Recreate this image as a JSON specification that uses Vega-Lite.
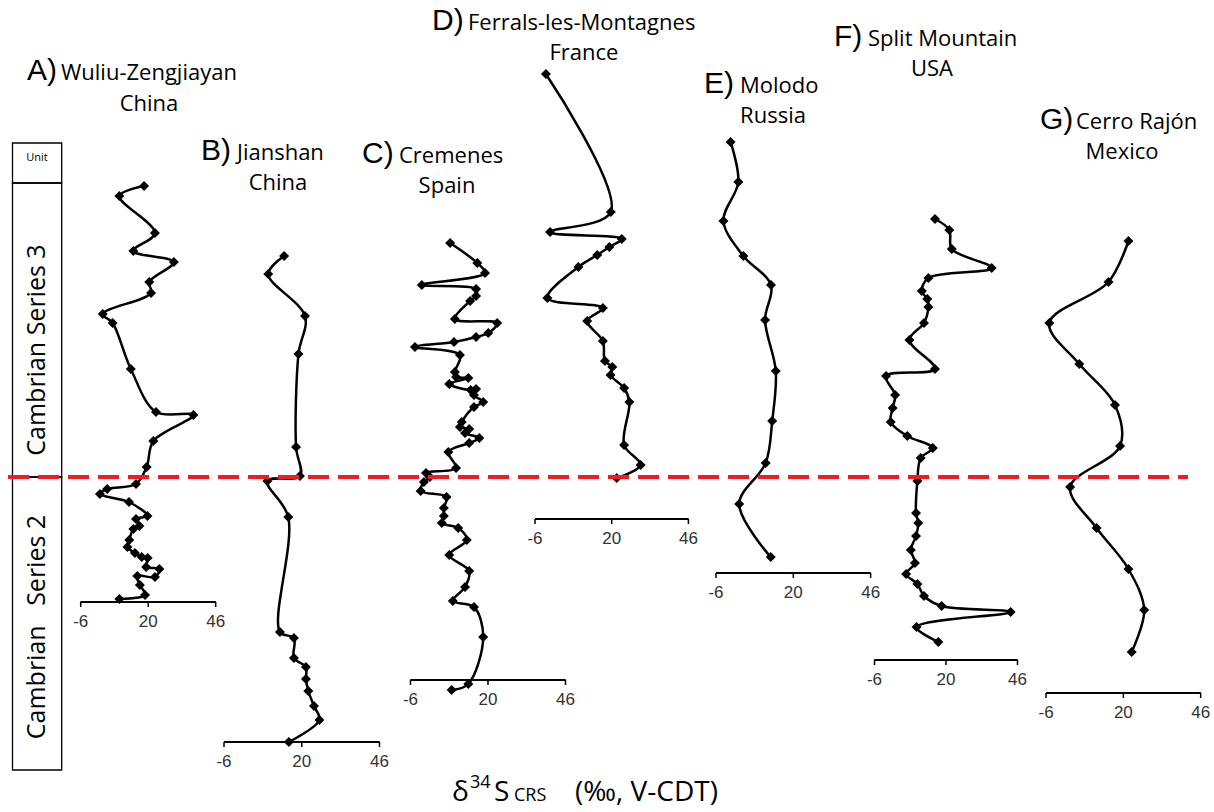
{
  "$schema": "https://vega.github.io/schema/vega-lite/v6.json",
  "width": 1214,
  "height": 812,
  "autosize": {"type": "none"},
  "padding": 0,
  "background": "white",
  "config": {"view": {"stroke": null}},
  "datasets": {
    "A": [
      {"i":1,"d34S":18.4,"h":291},{"i":2,"d34S":8.9,"h":281},{"i":3,"d34S":22.6,"h":244},{"i":4,"d34S":14.3,"h":226},
      {"i":5,"d34S":29.9,"h":215},{"i":6,"d34S":20.4,"h":195},{"i":7,"d34S":21.1,"h":184},{"i":8,"d34S":2.5,"h":163},
      {"i":9,"d34S":6.3,"h":154},{"i":10,"d34S":13.3,"h":108},{"i":11,"d34S":23.0,"h":65},{"i":12,"d34S":37.4,"h":62},
      {"i":13,"d34S":22.0,"h":36},{"i":14,"d34S":19.4,"h":10},{"i":15,"d34S":15.3,"h":-7},{"i":16,"d34S":4.2,"h":-12},
      {"i":17,"d34S":1.4,"h":-17},{"i":18,"d34S":12.6,"h":-25},{"i":19,"d34S":19.7,"h":-39},{"i":20,"d34S":15.3,"h":-42},
      {"i":21,"d34S":16.6,"h":-49},{"i":22,"d34S":14.3,"h":-52},{"i":23,"d34S":12.7,"h":-63},{"i":24,"d34S":12.0,"h":-70},
      {"i":25,"d34S":14.9,"h":-76},{"i":26,"d34S":17.5,"h":-80},{"i":27,"d34S":19.8,"h":-81},{"i":28,"d34S":19.2,"h":-90},
      {"i":29,"d34S":24.3,"h":-92},{"i":30,"d34S":22.6,"h":-100},{"i":31,"d34S":15.8,"h":-99},{"i":32,"d34S":16.8,"h":-108},
      {"i":33,"d34S":18.8,"h":-118},{"i":34,"d34S":8.9,"h":-122}
    ],
    "B": [
      {"i":1,"d34S":14.1,"h":221},{"i":2,"d34S":8.8,"h":203},{"i":3,"d34S":21.1,"h":161},{"i":4,"d34S":18.9,"h":123},
      {"i":5,"d34S":18.1,"h":30},{"i":6,"d34S":19.4,"h":1},{"i":7,"d34S":8.5,"h":-4},{"i":8,"d34S":15.5,"h":-40},
      {"i":9,"d34S":12.7,"h":-155},{"i":10,"d34S":17.4,"h":-161},{"i":11,"d34S":17.4,"h":-181},{"i":12,"d34S":21.4,"h":-190},
      {"i":13,"d34S":21.4,"h":-202},{"i":14,"d34S":22.2,"h":-214},{"i":15,"d34S":24.1,"h":-229},{"i":16,"d34S":25.9,"h":-243},
      {"i":17,"d34S":15.7,"h":-265}
    ],
    "C": [
      {"i":1,"d34S":7.3,"h":234},{"i":2,"d34S":16.4,"h":214},{"i":3,"d34S":19.0,"h":204},{"i":4,"d34S":-2.2,"h":192},
      {"i":5,"d34S":16.0,"h":188},{"i":6,"d34S":16.0,"h":181},{"i":7,"d34S":14.0,"h":176},{"i":8,"d34S":8.9,"h":158},
      {"i":9,"d34S":23.1,"h":154},{"i":10,"d34S":20.1,"h":144},{"i":11,"d34S":16.0,"h":140},{"i":12,"d34S":8.6,"h":135},
      {"i":13,"d34S":-4.5,"h":130},{"i":14,"d34S":10.6,"h":122},{"i":15,"d34S":8.9,"h":105},{"i":16,"d34S":9.3,"h":100},
      {"i":17,"d34S":13.4,"h":99},{"i":18,"d34S":7.0,"h":93},{"i":19,"d34S":14.2,"h":87},{"i":20,"d34S":16.0,"h":88},
      {"i":21,"d34S":15.3,"h":82},{"i":22,"d34S":18.4,"h":75},{"i":23,"d34S":15.3,"h":70},{"i":24,"d34S":11.2,"h":55},
      {"i":25,"d34S":10.6,"h":50},{"i":26,"d34S":13.7,"h":48},{"i":27,"d34S":12.3,"h":44},{"i":28,"d34S":17.1,"h":39},
      {"i":29,"d34S":13.7,"h":34},{"i":30,"d34S":6.7,"h":25},{"i":31,"d34S":9.3,"h":9},{"i":32,"d34S":-0.8,"h":4},
      {"i":33,"d34S":0.5,"h":0},{"i":34,"d34S":-1.5,"h":-5},{"i":35,"d34S":-2.6,"h":-14},{"i":36,"d34S":6.1,"h":-20},
      {"i":37,"d34S":5.2,"h":-31},{"i":38,"d34S":5.2,"h":-39},{"i":39,"d34S":4.5,"h":-46},{"i":40,"d34S":10.0,"h":-51},
      {"i":41,"d34S":12.9,"h":-63},{"i":42,"d34S":7.0,"h":-78},{"i":43,"d34S":13.7,"h":-94},{"i":44,"d34S":12.3,"h":-110},
      {"i":45,"d34S":8.2,"h":-124},{"i":46,"d34S":15.3,"h":-130},{"i":47,"d34S":18.4,"h":-160},{"i":48,"d34S":13.4,"h":-207},
      {"i":49,"d34S":7.8,"h":-213}
    ],
    "D": [
      {"i":1,"d34S":-2.3,"h":403},{"i":2,"d34S":19.7,"h":265},{"i":3,"d34S":-0.9,"h":245},{"i":4,"d34S":23.4,"h":238},
      {"i":5,"d34S":19.2,"h":230},{"i":6,"d34S":15.1,"h":222},{"i":7,"d34S":8.7,"h":210},{"i":8,"d34S":-1.8,"h":179},
      {"i":9,"d34S":17.0,"h":169},{"i":10,"d34S":11.7,"h":156},{"i":11,"d34S":17.0,"h":136},{"i":12,"d34S":17.7,"h":116},
      {"i":13,"d34S":20.2,"h":110},{"i":14,"d34S":19.6,"h":102},{"i":15,"d34S":24.2,"h":89},{"i":16,"d34S":26.0,"h":75},
      {"i":17,"d34S":24.2,"h":32},{"i":18,"d34S":29.8,"h":12},{"i":19,"d34S":21.7,"h":-1}
    ],
    "E": [
      {"i":1,"d34S":-1.1,"h":335},{"i":2,"d34S":1.5,"h":295},{"i":3,"d34S":-3.5,"h":256},{"i":4,"d34S":3.2,"h":221},
      {"i":5,"d34S":12.5,"h":192},{"i":6,"d34S":10.5,"h":157},{"i":7,"d34S":14.1,"h":106},{"i":8,"d34S":12.9,"h":56},
      {"i":9,"d34S":10.7,"h":14},{"i":10,"d34S":1.8,"h":-27},{"i":11,"d34S":12.4,"h":-80}
    ],
    "F": [
      {"i":1,"d34S":16.0,"h":258},{"i":2,"d34S":21.2,"h":247},{"i":3,"d34S":22.1,"h":228},{"i":4,"d34S":36.6,"h":209},
      {"i":5,"d34S":13.6,"h":199},{"i":6,"d34S":11.2,"h":186},{"i":7,"d34S":13.2,"h":178},{"i":8,"d34S":13.6,"h":170},
      {"i":9,"d34S":12.0,"h":154},{"i":10,"d34S":6.7,"h":137},{"i":11,"d34S":16.0,"h":108},{"i":12,"d34S":-1.8,"h":101},
      {"i":13,"d34S":1.5,"h":82},{"i":14,"d34S":0.6,"h":69},{"i":15,"d34S":-0.1,"h":55},{"i":16,"d34S":5.9,"h":41},
      {"i":17,"d34S":15.2,"h":29},{"i":18,"d34S":10.8,"h":19},{"i":19,"d34S":9.6,"h":-4},{"i":20,"d34S":9.1,"h":-36},
      {"i":21,"d34S":9.9,"h":-46},{"i":22,"d34S":9.1,"h":-59},{"i":23,"d34S":7.2,"h":-73},{"i":24,"d34S":8.7,"h":-86},
      {"i":25,"d34S":5.5,"h":-97},{"i":26,"d34S":9.6,"h":-107},{"i":27,"d34S":12.0,"h":-119},{"i":28,"d34S":18.4,"h":-129},
      {"i":29,"d34S":43.5,"h":-135},{"i":30,"d34S":9.3,"h":-150},{"i":31,"d34S":17.2,"h":-165}
    ],
    "G": [
      {"i":1,"d34S":21.7,"h":236},{"i":2,"d34S":15.0,"h":195},{"i":3,"d34S":-4.9,"h":154},{"i":4,"d34S":5.2,"h":113},
      {"i":5,"d34S":17.2,"h":72},{"i":6,"d34S":18.9,"h":31},{"i":7,"d34S":2.1,"h":-10},{"i":8,"d34S":11.0,"h":-51},
      {"i":9,"d34S":21.7,"h":-92},{"i":10,"d34S":27.0,"h":-133},{"i":11,"d34S":22.8,"h":-175}
    ],
    "ticks": [{"v": -6, "lab": "-6"}, {"v": 20, "lab": "20"}, {"v": 46, "lab": "46"}],
    "letters": [
      {"t":"A)","x":-26.69,"h":397},{"t":"B)","x":40.34,"h":317},{"t":"C)","x":102.36,"h":314},{"t":"D)","x":129.32,"h":447},
      {"t":"E)","x":234.10,"h":384},{"t":"F)","x":284.17,"h":431},{"t":"G)","x":363.53,"h":348}
    ],
    "names": [
      {"t":"Wuliu-Zengjiayan","x":-13.59,"h":397},{"t":"Jianshan","x":54.20,"h":317},{"t":"Cremenes","x":116.61,"h":314},
      {"t":"Ferrals-les-Montagnes","x":143.19,"h":447},{"t":"Molodo","x":247.96,"h":384},{"t":"Split Mountain","x":297.27,"h":431},
      {"t":"Cerro Rajón","x":377.39,"h":348}
    ],
    "countries": [
      {"t":"China","x":20.31,"h":366},{"t":"China","x":70.0,"h":287},{"t":"Spain","x":135.10,"h":284},{"t":"France","x":187.87,"h":417},
      {"t":"Russia","x":260.68,"h":354},{"t":"USA","x":321.92,"h":401},{"t":"Mexico","x":395.11,"h":318}
    ]
  },
  "layer": [
    {
      "layer": [
        {"data": {"name": "A"}, "mark": {"type": "line", "interpolate": "catmull-rom", "color": "black", "strokeWidth": 2.5},
         "encoding": {
           "x": {"field": "d34S", "type": "quantitative", "scale": {"domain": [-37.086, 430.55], "nice": false, "zero": false}, "axis": null},
           "y": {"field": "h", "type": "quantitative", "scale": {"domain": [-335, 477], "nice": false, "zero": false}, "axis": null},
           "order": {"field": "i"}}},
        {"data": {"name": "A"}, "mark": {"type": "point", "shape": "diamond", "filled": true, "color": "black", "size": 100, "opacity": 1},
         "encoding": {
           "x": {"field": "d34S", "type": "quantitative", "scale": {"domain": [-37.086, 430.55], "nice": false, "zero": false}, "axis": null},
           "y": {"field": "h", "type": "quantitative", "scale": {"domain": [-335, 477], "nice": false, "zero": false}, "axis": null}}},
        {"data": {"name": "ticks"}, "mark": {"type": "rule", "color": "black", "strokeWidth": 1.5},
         "encoding": {
           "x": {"datum": -6, "type": "quantitative", "scale": {"domain": [-37.086, 430.55], "nice": false, "zero": false}, "axis": null},
           "x2": {"datum": 46},
           "y": {"datum": -125, "type": "quantitative", "scale": {"domain": [-335, 477], "nice": false, "zero": false}, "axis": null}}},
        {"data": {"name": "ticks"}, "mark": {"type": "rule", "color": "black", "strokeWidth": 1.5},
         "encoding": {
           "x": {"field": "v", "type": "quantitative", "scale": {"domain": [-37.086, 430.55], "nice": false, "zero": false}, "axis": null},
           "y": {"datum": -125, "type": "quantitative", "scale": {"domain": [-335, 477], "nice": false, "zero": false}, "axis": null},
           "y2": {"datum": -130}}},
        {"data": {"name": "ticks"}, "mark": {"type": "text", "font": "Liberation Sans", "fontSize": 17, "color": "#333333", "align": "center", "baseline": "alphabetic"},
         "encoding": {
           "x": {"field": "v", "type": "quantitative", "scale": {"domain": [-37.086, 430.55], "nice": false, "zero": false}, "axis": null},
           "y": {"datum": -150, "type": "quantitative", "scale": {"domain": [-335, 477], "nice": false, "zero": false}, "axis": null},
           "text": {"field": "lab"}}}
      ]
    },
    {
      "layer": [
        {"data": {"name": "B"}, "mark": {"type": "line", "interpolate": "catmull-rom", "color": "black", "strokeWidth": 2.5},
         "encoding": {
           "x": {"field": "d34S", "type": "quantitative", "scale": {"domain": [-80.916, 325.10], "nice": false, "zero": false}, "axis": null},
           "y": {"field": "h", "type": "quantitative", "scale": {"domain": [-335, 477], "nice": false, "zero": false}, "axis": null},
           "order": {"field": "i"}}},
        {"data": {"name": "B"}, "mark": {"type": "point", "shape": "diamond", "filled": true, "color": "black", "size": 100, "opacity": 1},
         "encoding": {
           "x": {"field": "d34S", "type": "quantitative", "scale": {"domain": [-80.916, 325.10], "nice": false, "zero": false}, "axis": null},
           "y": {"field": "h", "type": "quantitative", "scale": {"domain": [-335, 477], "nice": false, "zero": false}, "axis": null}}},
        {"data": {"name": "ticks"}, "mark": {"type": "rule", "color": "black", "strokeWidth": 1.5},
         "encoding": {
           "x": {"datum": -6, "type": "quantitative", "scale": {"domain": [-80.916, 325.10], "nice": false, "zero": false}, "axis": null},
           "x2": {"datum": 46},
           "y": {"datum": -265, "type": "quantitative", "scale": {"domain": [-335, 477], "nice": false, "zero": false}, "axis": null}}},
        {"data": {"name": "ticks"}, "mark": {"type": "rule", "color": "black", "strokeWidth": 1.5},
         "encoding": {
           "x": {"field": "v", "type": "quantitative", "scale": {"domain": [-80.916, 325.10], "nice": false, "zero": false}, "axis": null},
           "y": {"datum": -265, "type": "quantitative", "scale": {"domain": [-335, 477], "nice": false, "zero": false}, "axis": null},
           "y2": {"datum": -270}}},
        {"data": {"name": "ticks"}, "mark": {"type": "text", "font": "Liberation Sans", "fontSize": 17, "color": "#333333", "align": "center", "baseline": "alphabetic"},
         "encoding": {
           "x": {"field": "v", "type": "quantitative", "scale": {"domain": [-80.916, 325.10], "nice": false, "zero": false}, "axis": null},
           "y": {"datum": -290, "type": "quantitative", "scale": {"domain": [-335, 477], "nice": false, "zero": false}, "axis": null},
           "text": {"field": "lab"}}}
      ]
    },
    {
      "layer": [
        {"data": {"name": "C"}, "mark": {"type": "line", "interpolate": "catmull-rom", "color": "black", "strokeWidth": 2.5},
         "encoding": {
           "x": {"field": "d34S", "type": "quantitative", "scale": {"domain": [-143.75, 263.63], "nice": false, "zero": false}, "axis": null},
           "y": {"field": "h", "type": "quantitative", "scale": {"domain": [-335, 477], "nice": false, "zero": false}, "axis": null},
           "order": {"field": "i"}}},
        {"data": {"name": "C"}, "mark": {"type": "point", "shape": "diamond", "filled": true, "color": "black", "size": 100, "opacity": 1},
         "encoding": {
           "x": {"field": "d34S", "type": "quantitative", "scale": {"domain": [-143.75, 263.63], "nice": false, "zero": false}, "axis": null},
           "y": {"field": "h", "type": "quantitative", "scale": {"domain": [-335, 477], "nice": false, "zero": false}, "axis": null}}},
        {"data": {"name": "ticks"}, "mark": {"type": "rule", "color": "black", "strokeWidth": 1.5},
         "encoding": {
           "x": {"datum": -6, "type": "quantitative", "scale": {"domain": [-143.75, 263.63], "nice": false, "zero": false}, "axis": null},
           "x2": {"datum": 46},
           "y": {"datum": -203, "type": "quantitative", "scale": {"domain": [-335, 477], "nice": false, "zero": false}, "axis": null}}},
        {"data": {"name": "ticks"}, "mark": {"type": "rule", "color": "black", "strokeWidth": 1.5},
         "encoding": {
           "x": {"field": "v", "type": "quantitative", "scale": {"domain": [-143.75, 263.63], "nice": false, "zero": false}, "axis": null},
           "y": {"datum": -203, "type": "quantitative", "scale": {"domain": [-335, 477], "nice": false, "zero": false}, "axis": null},
           "y2": {"datum": -208}}},
        {"data": {"name": "ticks"}, "mark": {"type": "text", "font": "Liberation Sans", "fontSize": 17, "color": "#333333", "align": "center", "baseline": "alphabetic"},
         "encoding": {
           "x": {"field": "v", "type": "quantitative", "scale": {"domain": [-143.75, 263.63], "nice": false, "zero": false}, "axis": null},
           "y": {"datum": -228, "type": "quantitative", "scale": {"domain": [-335, 477], "nice": false, "zero": false}, "axis": null},
           "text": {"field": "lab"}}}
      ]
    },
    {
      "layer": [
        {"data": {"name": "D"}, "mark": {"type": "line", "interpolate": "catmull-rom", "color": "black", "strokeWidth": 2.5},
         "encoding": {
           "x": {"field": "d34S", "type": "quantitative", "scale": {"domain": [-187.36, 224.17], "nice": false, "zero": false}, "axis": null},
           "y": {"field": "h", "type": "quantitative", "scale": {"domain": [-335, 477], "nice": false, "zero": false}, "axis": null},
           "order": {"field": "i"}}},
        {"data": {"name": "D"}, "mark": {"type": "point", "shape": "diamond", "filled": true, "color": "black", "size": 100, "opacity": 1},
         "encoding": {
           "x": {"field": "d34S", "type": "quantitative", "scale": {"domain": [-187.36, 224.17], "nice": false, "zero": false}, "axis": null},
           "y": {"field": "h", "type": "quantitative", "scale": {"domain": [-335, 477], "nice": false, "zero": false}, "axis": null}}},
        {"data": {"name": "ticks"}, "mark": {"type": "rule", "color": "black", "strokeWidth": 1.5},
         "encoding": {
           "x": {"datum": -6, "type": "quantitative", "scale": {"domain": [-187.36, 224.17], "nice": false, "zero": false}, "axis": null},
           "x2": {"datum": 46},
           "y": {"datum": -42, "type": "quantitative", "scale": {"domain": [-335, 477], "nice": false, "zero": false}, "axis": null}}},
        {"data": {"name": "ticks"}, "mark": {"type": "rule", "color": "black", "strokeWidth": 1.5},
         "encoding": {
           "x": {"field": "v", "type": "quantitative", "scale": {"domain": [-187.36, 224.17], "nice": false, "zero": false}, "axis": null},
           "y": {"datum": -42, "type": "quantitative", "scale": {"domain": [-335, 477], "nice": false, "zero": false}, "axis": null},
           "y2": {"datum": -47}}},
        {"data": {"name": "ticks"}, "mark": {"type": "text", "font": "Liberation Sans", "fontSize": 17, "color": "#333333", "align": "center", "baseline": "alphabetic"},
         "encoding": {
           "x": {"field": "v", "type": "quantitative", "scale": {"domain": [-187.36, 224.17], "nice": false, "zero": false}, "axis": null},
           "y": {"datum": -67, "type": "quantitative", "scale": {"domain": [-335, 477], "nice": false, "zero": false}, "axis": null},
           "text": {"field": "lab"}}}
      ]
    },
    {
      "layer": [
        {"data": {"name": "E"}, "mark": {"type": "line", "interpolate": "catmull-rom", "color": "black", "strokeWidth": 2.5},
         "encoding": {
           "x": {"field": "d34S", "type": "quantitative", "scale": {"domain": [-246.75, 161.45], "nice": false, "zero": false}, "axis": null},
           "y": {"field": "h", "type": "quantitative", "scale": {"domain": [-335, 477], "nice": false, "zero": false}, "axis": null},
           "order": {"field": "i"}}},
        {"data": {"name": "E"}, "mark": {"type": "point", "shape": "diamond", "filled": true, "color": "black", "size": 100, "opacity": 1},
         "encoding": {
           "x": {"field": "d34S", "type": "quantitative", "scale": {"domain": [-246.75, 161.45], "nice": false, "zero": false}, "axis": null},
           "y": {"field": "h", "type": "quantitative", "scale": {"domain": [-335, 477], "nice": false, "zero": false}, "axis": null}}},
        {"data": {"name": "ticks"}, "mark": {"type": "rule", "color": "black", "strokeWidth": 1.5},
         "encoding": {
           "x": {"datum": -6, "type": "quantitative", "scale": {"domain": [-246.75, 161.45], "nice": false, "zero": false}, "axis": null},
           "x2": {"datum": 46},
           "y": {"datum": -96, "type": "quantitative", "scale": {"domain": [-335, 477], "nice": false, "zero": false}, "axis": null}}},
        {"data": {"name": "ticks"}, "mark": {"type": "rule", "color": "black", "strokeWidth": 1.5},
         "encoding": {
           "x": {"field": "v", "type": "quantitative", "scale": {"domain": [-246.75, 161.45], "nice": false, "zero": false}, "axis": null},
           "y": {"datum": -96, "type": "quantitative", "scale": {"domain": [-335, 477], "nice": false, "zero": false}, "axis": null},
           "y2": {"datum": -101}}},
        {"data": {"name": "ticks"}, "mark": {"type": "text", "font": "Liberation Sans", "fontSize": 17, "color": "#333333", "align": "center", "baseline": "alphabetic"},
         "encoding": {
           "x": {"field": "v", "type": "quantitative", "scale": {"domain": [-246.75, 161.45], "nice": false, "zero": false}, "axis": null},
           "y": {"datum": -121, "type": "quantitative", "scale": {"domain": [-335, 477], "nice": false, "zero": false}, "axis": null},
           "text": {"field": "lab"}}}
      ]
    },
    {
      "layer": [
        {"data": {"name": "F"}, "mark": {"type": "line", "interpolate": "catmull-rom", "color": "black", "strokeWidth": 2.5},
         "encoding": {
           "x": {"field": "d34S", "type": "quantitative", "scale": {"domain": [-324.0, 117.45], "nice": false, "zero": false}, "axis": null},
           "y": {"field": "h", "type": "quantitative", "scale": {"domain": [-335, 477], "nice": false, "zero": false}, "axis": null},
           "order": {"field": "i"}}},
        {"data": {"name": "F"}, "mark": {"type": "point", "shape": "diamond", "filled": true, "color": "black", "size": 100, "opacity": 1},
         "encoding": {
           "x": {"field": "d34S", "type": "quantitative", "scale": {"domain": [-324.0, 117.45], "nice": false, "zero": false}, "axis": null},
           "y": {"field": "h", "type": "quantitative", "scale": {"domain": [-335, 477], "nice": false, "zero": false}, "axis": null}}},
        {"data": {"name": "ticks"}, "mark": {"type": "rule", "color": "black", "strokeWidth": 1.5},
         "encoding": {
           "x": {"datum": -6, "type": "quantitative", "scale": {"domain": [-324.0, 117.45], "nice": false, "zero": false}, "axis": null},
           "x2": {"datum": 46},
           "y": {"datum": -183, "type": "quantitative", "scale": {"domain": [-335, 477], "nice": false, "zero": false}, "axis": null}}},
        {"data": {"name": "ticks"}, "mark": {"type": "rule", "color": "black", "strokeWidth": 1.5},
         "encoding": {
           "x": {"field": "v", "type": "quantitative", "scale": {"domain": [-324.0, 117.45], "nice": false, "zero": false}, "axis": null},
           "y": {"datum": -183, "type": "quantitative", "scale": {"domain": [-335, 477], "nice": false, "zero": false}, "axis": null},
           "y2": {"datum": -188}}},
        {"data": {"name": "ticks"}, "mark": {"type": "text", "font": "Liberation Sans", "fontSize": 17, "color": "#333333", "align": "center", "baseline": "alphabetic"},
         "encoding": {
           "x": {"field": "v", "type": "quantitative", "scale": {"domain": [-324.0, 117.45], "nice": false, "zero": false}, "axis": null},
           "y": {"datum": -208, "type": "quantitative", "scale": {"domain": [-335, 477], "nice": false, "zero": false}, "axis": null},
           "text": {"field": "lab"}}}
      ]
    },
    {
      "layer": [
        {"data": {"name": "G"}, "mark": {"type": "line", "interpolate": "catmull-rom", "color": "black", "strokeWidth": 2.5},
         "encoding": {
           "x": {"field": "d34S", "type": "quantitative", "scale": {"domain": [-357.72, 50.48], "nice": false, "zero": false}, "axis": null},
           "y": {"field": "h", "type": "quantitative", "scale": {"domain": [-335, 477], "nice": false, "zero": false}, "axis": null},
           "order": {"field": "i"}}},
        {"data": {"name": "G"}, "mark": {"type": "point", "shape": "diamond", "filled": true, "color": "black", "size": 100, "opacity": 1},
         "encoding": {
           "x": {"field": "d34S", "type": "quantitative", "scale": {"domain": [-357.72, 50.48], "nice": false, "zero": false}, "axis": null},
           "y": {"field": "h", "type": "quantitative", "scale": {"domain": [-335, 477], "nice": false, "zero": false}, "axis": null}}},
        {"data": {"name": "ticks"}, "mark": {"type": "rule", "color": "black", "strokeWidth": 1.5},
         "encoding": {
           "x": {"datum": -6, "type": "quantitative", "scale": {"domain": [-357.72, 50.48], "nice": false, "zero": false}, "axis": null},
           "x2": {"datum": 46},
           "y": {"datum": -216, "type": "quantitative", "scale": {"domain": [-335, 477], "nice": false, "zero": false}, "axis": null}}},
        {"data": {"name": "ticks"}, "mark": {"type": "rule", "color": "black", "strokeWidth": 1.5},
         "encoding": {
           "x": {"field": "v", "type": "quantitative", "scale": {"domain": [-357.72, 50.48], "nice": false, "zero": false}, "axis": null},
           "y": {"datum": -216, "type": "quantitative", "scale": {"domain": [-335, 477], "nice": false, "zero": false}, "axis": null},
           "y2": {"datum": -221}}},
        {"data": {"name": "ticks"}, "mark": {"type": "text", "font": "Liberation Sans", "fontSize": 17, "color": "#333333", "align": "center", "baseline": "alphabetic"},
         "encoding": {
           "x": {"field": "v", "type": "quantitative", "scale": {"domain": [-357.72, 50.48], "nice": false, "zero": false}, "axis": null},
           "y": {"datum": -241, "type": "quantitative", "scale": {"domain": [-335, 477], "nice": false, "zero": false}, "axis": null},
           "text": {"field": "lab"}}}
      ]
    },
    {
      "layer": [
        {"data": {"values": [{"x0": -32.27, "x1": -13.32, "y0": 334, "y1": 294}, {"x0": -32.27, "x1": -13.32, "y0": 294, "y1": 0}, {"x0": -32.27, "x1": -13.32, "y0": 0, "y1": -293}]},
         "mark": {"type": "rect", "fill": "transparent", "stroke": "black", "strokeWidth": 1.3},
         "encoding": {
           "x": {"field": "x0", "type": "quantitative", "scale": {"domain": [-37.086, 430.55], "nice": false, "zero": false}, "axis": null},
           "x2": {"field": "x1"},
           "y": {"field": "y0", "type": "quantitative", "scale": {"domain": [-335, 477], "nice": false, "zero": false}, "axis": null},
           "y2": {"field": "y1"}}},
        {"data": {"values": [{"t": "Unit", "x": -22.83, "h": 319}]},
         "mark": {"type": "text", "font": "Open Sans", "fontSize": 11, "align": "center", "baseline": "middle", "color": "black"},
         "encoding": {
           "x": {"field": "x", "type": "quantitative", "scale": {"domain": [-37.086, 430.55], "nice": false, "zero": false}, "axis": null},
           "y": {"field": "h", "type": "quantitative", "scale": {"domain": [-335, 477], "nice": false, "zero": false}, "axis": null},
           "text": {"field": "t"}}},
        {"data": {"values": [{"t": "Cambrian Series 3", "x": -22.83, "h": 127}, {"t": "Cambrian\u00a0\u00a0 Series 2", "x": -22.83, "h": -150}]},
         "mark": {"type": "text", "font": "Open Sans", "fontSize": 25, "align": "center", "baseline": "middle", "angle": 270, "color": "black"},
         "encoding": {
           "x": {"field": "x", "type": "quantitative", "scale": {"domain": [-37.086, 430.55], "nice": false, "zero": false}, "axis": null},
           "y": {"field": "h", "type": "quantitative", "scale": {"domain": [-335, 477], "nice": false, "zero": false}, "axis": null},
           "text": {"field": "t"}}},
        {"data": {"name": "letters"},
         "mark": {"type": "text", "font": "Liberation Sans", "fontSize": 30, "align": "left", "baseline": "alphabetic", "color": "black"},
         "encoding": {
           "x": {"field": "x", "type": "quantitative", "scale": {"domain": [-37.086, 430.55], "nice": false, "zero": false}, "axis": null},
           "y": {"field": "h", "type": "quantitative", "scale": {"domain": [-335, 477], "nice": false, "zero": false}, "axis": null},
           "text": {"field": "t"}}},
        {"data": {"name": "names"},
         "mark": {"type": "text", "font": "Open Sans", "fontSize": 22, "align": "left", "baseline": "alphabetic", "color": "black"},
         "encoding": {
           "x": {"field": "x", "type": "quantitative", "scale": {"domain": [-37.086, 430.55], "nice": false, "zero": false}, "axis": null},
           "y": {"field": "h", "type": "quantitative", "scale": {"domain": [-335, 477], "nice": false, "zero": false}, "axis": null},
           "text": {"field": "t"}}},
        {"data": {"name": "countries"},
         "mark": {"type": "text", "font": "Open Sans", "fontSize": 22, "align": "center", "baseline": "alphabetic", "color": "black"},
         "encoding": {
           "x": {"field": "x", "type": "quantitative", "scale": {"domain": [-37.086, 430.55], "nice": false, "zero": false}, "axis": null},
           "y": {"field": "h", "type": "quantitative", "scale": {"domain": [-335, 477], "nice": false, "zero": false}, "axis": null},
           "text": {"field": "t"}}},
        {"data": {"values": [{"t": "δ", "x": 137.03, "h": -324}, {"t": "S", "x": 153.21, "h": -324}, {"t": "(‰, V-CDT)", "x": 184.41, "h": -324}]},
         "mark": {"type": "text", "font": "Open Sans", "fontSize": 28, "align": "left", "baseline": "alphabetic", "color": "black"},
         "encoding": {
           "x": {"field": "x", "type": "quantitative", "scale": {"domain": [-37.086, 430.55], "nice": false, "zero": false}, "axis": null},
           "y": {"field": "h", "type": "quantitative", "scale": {"domain": [-335, 477], "nice": false, "zero": false}, "axis": null},
           "text": {"field": "t"}}},
        {"data": {"values": [{"t": "34", "x": 143.96, "h": -311}, {"t": "CRS", "x": 160.91, "h": -324}]},
         "mark": {"type": "text", "font": "Open Sans", "fontSize": 18, "align": "left", "baseline": "alphabetic", "color": "black"},
         "encoding": {
           "x": {"field": "x", "type": "quantitative", "scale": {"domain": [-37.086, 430.55], "nice": false, "zero": false}, "axis": null},
           "y": {"field": "h", "type": "quantitative", "scale": {"domain": [-335, 477], "nice": false, "zero": false}, "axis": null},
           "text": {"field": "t"}}},
        {"data": {"values": [{"from": -34.0, "to": 420.54, "h": 0}]},
         "mark": {"type": "rule", "color": "#ee1c24", "strokeWidth": 4, "strokeDash": [21, 9]},
         "encoding": {
           "x": {"field": "from", "type": "quantitative", "scale": {"domain": [-37.086, 430.55], "nice": false, "zero": false}, "axis": null},
           "x2": {"field": "to"},
           "y": {"field": "h", "type": "quantitative", "scale": {"domain": [-335, 477], "nice": false, "zero": false}, "axis": null}}}
      ]
    }
  ],
  "resolve": {"scale": {"x": "independent"}}
}
